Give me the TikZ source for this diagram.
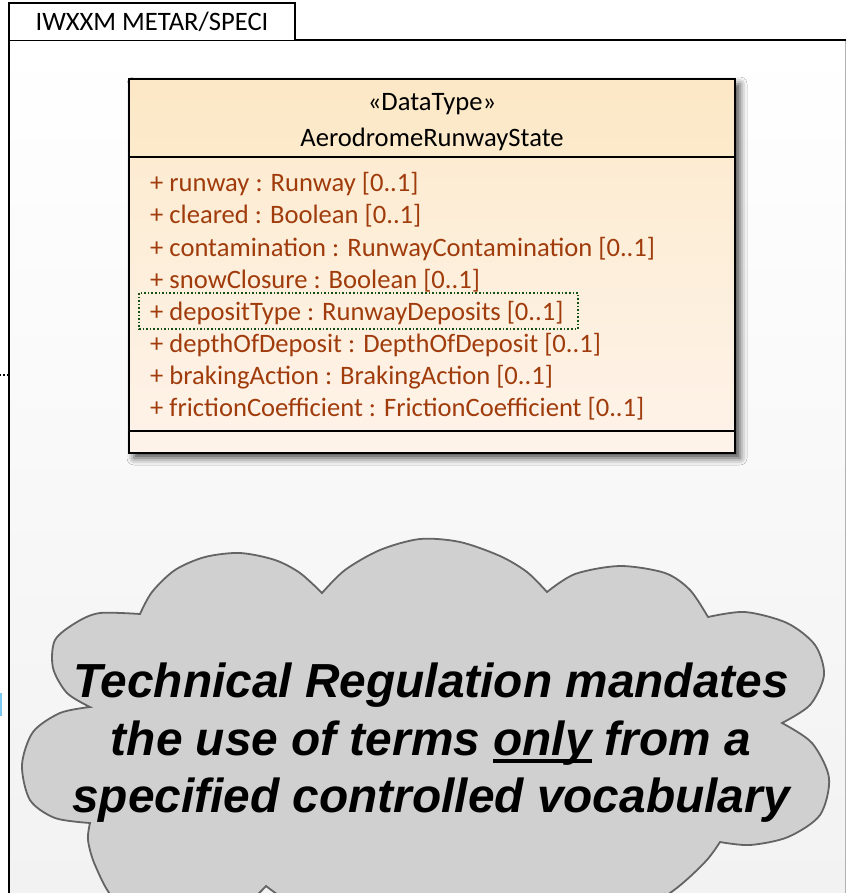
\documentclass[tikz,border=0pt]{standalone}
\usepackage{fontspec}
\setmainfont{Carlito}
\newfontfamily\cloudfont{Liberation Sans}
\usetikzlibrary{shadows.blur}
\definecolor{attr}{RGB}{160,60,12}
\definecolor{hdrtop}{RGB}{252,232,198}
\definecolor{hdrbot}{RGB}{252,234,204}
\definecolor{attrtop}{RGB}{253,236,210}
\definecolor{attrbot}{RGB}{254,243,234}
\definecolor{dkgreen}{RGB}{20,80,20}
\definecolor{cloudfill}{RGB}{208,208,208}
\definecolor{cloudline}{RGB}{100,100,100}
\definecolor{framebot}{RGB}{242,242,242}
\definecolor{bluemark}{RGB}{120,200,240}
\newcommand\myul[1]{\setbox0\hbox{#1}\rlap{\rule[-0.17em]{\wd0}{0.08em}}#1}
\tikzset{
  attrtext/.style={anchor=base west, inner sep=0pt, text=attr, font=\fontsize{26.6}{30}\selectfont},
  hdrtext/.style={inner sep=0pt, font=\fontsize{26.6}{30}\selectfont},
  cloudtext/.style={anchor=base, inner sep=0pt, font=\cloudfont\bfseries\itshape\fontsize{47.8}{57}\selectfont},
}
\begin{document}
\begin{tikzpicture}[x=1pt,y=-1pt]
\useasboundingbox (0,0) rectangle (846,893);
\clip (0,0) rectangle (846,893);
% package frame
\shade[top color=white, bottom color=framebot] (9,40) rectangle (845,893);
\draw[gray!60, line width=1pt] (845,40) -- (845,893);
\draw[line width=1.5pt] (9,893) -- (9,40) -- (846,40);
\draw[line width=1.5pt, fill=white] (9,40) -- (9,3) -- (295,3) -- (295,40);
\node[inner sep=0pt, font=\fontsize{26.6}{30}\selectfont] (tab) at (152,22) {IWXXM METAR/SPECI};
% outside marks
\draw[dotted, line width=1.3pt] (0,375) -- (9,375);
\fill[bluemark] (0,693) rectangle (1.5,716);
% class box
\path[fill=white, blur shadow={shadow xshift=5pt, shadow yshift=-5pt, shadow blur radius=7pt, shadow opacity=70}] (129,79) rectangle (735,453);
\shade[top color=hdrtop, bottom color=hdrbot] (129,79) rectangle (735,157);
\shade[top color=attrtop, bottom color=attrbot] (129,157) rectangle (735,453);
\draw[line width=2.2pt] (129,79) rectangle (735,453);
\draw[line width=1.5pt] (129,157) -- (735,157);
\draw[line width=1.5pt] (129,431) -- (735,431);
\node[hdrtext] (stereo) at (432,104) {«DataType»};
\node[hdrtext] (cname) at (432,139) {AerodromeRunwayState};
\node[attrtext] (a1) at (150,192) {+ runway : Runway [0..1]};
\node[attrtext] (a2) at (150,224) {+ cleared : Boolean [0..1]};
\node[attrtext] (a3) at (150,256) {+ contamination : RunwayContamination [0..1]};
\node[attrtext] (a4) at (150,288) {+ snowClosure : Boolean [0..1]};
\node[attrtext] (a5) at (150,320) {+ depositType : RunwayDeposits [0..1]};
\node[attrtext] (a6) at (150,352) {+ depthOfDeposit : DepthOfDeposit [0..1]};
\node[attrtext] (a7) at (150,384) {+ brakingAction : BrakingAction [0..1]};
\node[attrtext] (a8) at (150,416) {+ frictionCoefficient : FrictionCoefficient [0..1]};
\draw[dotted, dkgreen, line width=1.6pt] (139,293) rectangle (578,329);
% cloud
\draw[fill=cloudfill, draw=cloudline, line width=1.8pt]
  plot[smooth] coordinates {(90,707) (67,693) (53,668) (55,640) (77,622) (100,613) (140,614)}
  -- plot[smooth] coordinates {(140,614) (152,592) (175,570) (205,557) (240,553) (275,560) (300,573) (322,593)}
  -- plot[smooth] coordinates {(322,593) (345,570) (380,550) (420,539) (460,542) (500,556) (527,572) (547,592)}
  -- plot[smooth] coordinates {(547,592) (575,574) (620,566) (665,573) (690,590) (708,617)}
  -- plot[smooth] coordinates {(708,617) (745,612) (787,623) (815,645) (824,675) (810,705) (782,723)}
  -- plot[smooth] coordinates {(782,723) (812,743) (829,778) (820,815) (788,837) (750,845) (720,842)}
  -- plot[smooth] coordinates {(720,842) (705,862) (670,893) (600,935) (450,950) (330,925) (266,886)}
  -- plot[smooth] coordinates {(266,886) (230,915) (160,925) (115,900) (95,865) (88,840) (90,823)}
  -- plot[smooth] coordinates {(90,823) (55,818) (30,800) (22,765) (33,732) (60,713) (90,707)}
  -- cycle;
\node[cloudtext] (msg1) at (431,697) {Technical Regulation mandates};
\node[cloudtext] (msg2) at (431,755) {the use of terms \myul{only} from a};
\node[cloudtext] (msg3) at (431,812) {specified controlled vocabulary};
\end{tikzpicture}
\end{document}
